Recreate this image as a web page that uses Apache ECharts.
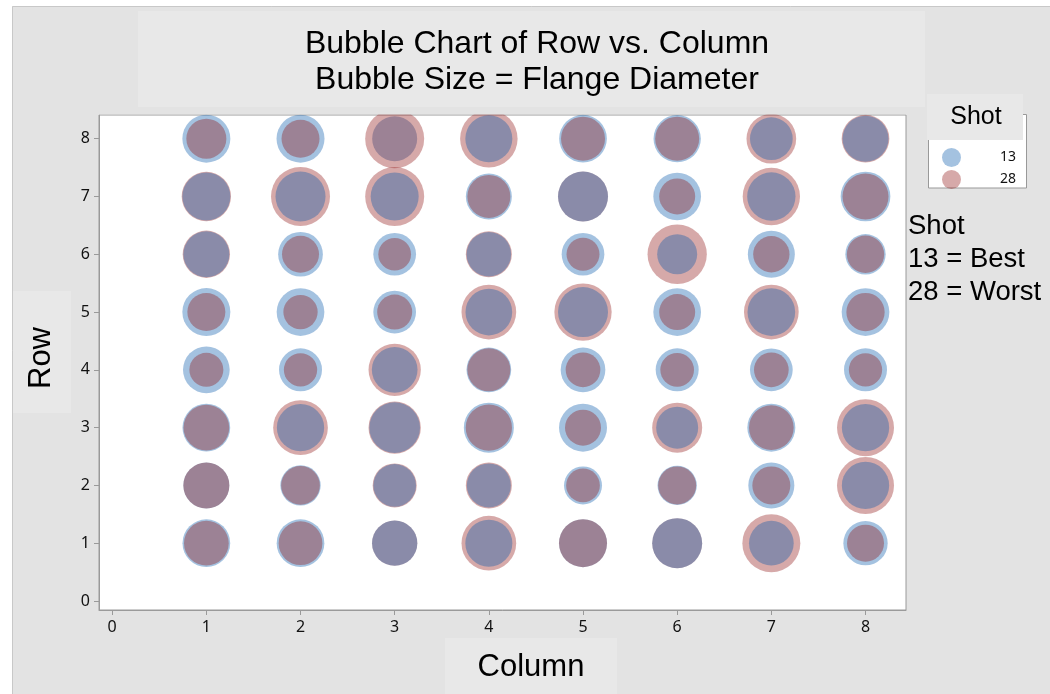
<!DOCTYPE html>
<html>
<head>
<meta charset="utf-8">
<script src="https://cdn.jsdelivr.net/npm/echarts@6/dist/echarts.min.js"></script>
<style>
html,body{margin:0;padding:0;background:#fff;}
#chart{width:1050px;height:694px;}
</style>
</head>
<body>
<div id="chart"></div>
<script>
// ---------------- data ----------------
const columns = [1, 2, 3, 4, 5, 6, 7, 8];
const rows = [1, 2, 3, 4, 5, 6, 7, 8];
const xTicks = [0, 1, 2, 3, 4, 5, 6, 7, 8];
const yTicks = [0, 1, 2, 3, 4, 5, 6, 7, 8];
const shots = ['13', '28'];
const shotNotes = ['Shot', '13 = Best', '28 = Worst'];

// Flange diameter (relative units), one array per Row (Row 1 .. Row 8), values for Column 1 .. 8
const shot13 = [
  [4.77, 4.77, 4.53, 4.70, 4.80, 5.00, 4.47, 4.43],
  [4.60, 4.03, 4.27, 4.40, 3.80, 3.93, 4.60, 4.73],
  [4.77, 4.73, 5.07, 5.00, 4.80, 4.20, 4.80, 4.73],
  [4.67, 4.30, 4.57, 4.47, 4.47, 4.30, 4.27, 4.30],
  [4.80, 4.77, 4.27, 4.67, 5.00, 4.77, 4.77, 4.77],
  [4.60, 4.47, 4.27, 4.45, 4.27, 4.00, 4.70, 4.03],
  [4.80, 5.00, 4.80, 4.60, 5.00, 4.77, 4.83, 4.97],
  [4.80, 4.80, 4.50, 4.70, 4.77, 4.73, 4.27, 4.60]
];
const shot28 = [
  [4.47, 4.37, 4.53, 5.47, 4.80, 5.00, 5.80, 3.70],
  [4.60, 3.87, 4.40, 4.60, 3.37, 3.80, 3.80, 5.70],
  [4.57, 5.47, 5.23, 4.63, 3.60, 5.00, 4.47, 5.70],
  [3.40, 3.33, 5.23, 4.30, 3.47, 3.37, 3.47, 3.33],
  [3.80, 3.43, 3.50, 5.47, 5.73, 3.60, 5.47, 3.83],
  [4.73, 3.70, 3.27, 4.60, 3.30, 5.93, 3.63, 3.73],
  [4.93, 5.90, 5.90, 4.30, 5.00, 3.60, 5.73, 4.60],
  [4.00, 3.80, 5.90, 5.75, 4.40, 4.40, 4.97, 4.77]
];
// Worksheet plotting order: cells [column, row] where the Shot 28 point was plotted after Shot 13
// even though it is not smaller (otherwise the smaller bubble is plotted last)
const shot28PlottedLast = [[3, 8], [1, 2], [5, 1]];

// ---------------- build ----------------
const BLUE = 'rgba(9,90,171,0.37)';
const PINK = 'rgba(141,17,17,0.36)';
const SIZE_SCALE = 10;

const under13 = [], under28 = [], over13 = [], over28 = [];
rows.forEach((r, i) => {
  columns.forEach((c, j) => {
    const a = shot13[i][j], b = shot28[i][j];
    const forced = shot28PlottedLast.some(p => p[0] === c && p[1] === r);
    const last28 = forced || b < a;
    if (last28) { under13.push([c, r, a]); over28.push([c, r, b]); }
    else { under28.push([c, r, b]); over13.push([c, r, a]); }
  });
});

function bubbleSeries(name, data, color, z) {
  return {
    type: 'scatter', name: name, data: data, z: z,
    symbol: 'circle',
    symbolSize: v => v[2] * SIZE_SCALE,
    itemStyle: { color: color, opacity: 1 },
    emphasis: { disabled: true },
    clip: false
  };
}

const chart = echarts.init(document.getElementById('chart'), null, { renderer: 'canvas' });
const axisColor = '#9a9a9a';
const tickFont = { fontFamily: 'Noto Sans', fontSize: 16, color: '#111' };
const textFont = 'Liberation Sans';

chart.setOption({
  animation: false,
  backgroundColor: '#e3e3e3',
  title: {
    text: 'Bubble Chart of Row vs. Column\nBubble Size = Flange Diameter',
    left: 532, top: 21, textAlign: 'center',
    textStyle: { fontFamily: textFont, fontSize: 32, fontWeight: 'normal', color: '#000', lineHeight: 36 }
  },
  grid: {
    left: 99, right: 144, top: 115, bottom: 84,
    show: true, backgroundColor: '#fff', borderColor: axisColor, borderWidth: 1
  },
  xAxis: {
    type: 'value', min: -0.14, max: 8.43,
    axisLine: { show: true, onZero: false, lineStyle: { color: axisColor } },
    axisTick: { show: true, length: 5, lineStyle: { color: axisColor }, customValues: xTicks },
    axisLabel: Object.assign({ margin: 9, customValues: xTicks }, tickFont),
    splitLine: { show: false }
  },
  yAxis: {
    type: 'value', min: -0.156, max: 8.41,
    axisLine: { show: true, onZero: false, lineStyle: { color: axisColor } },
    axisTick: { show: true, length: 5, lineStyle: { color: axisColor }, customValues: yTicks },
    axisLabel: Object.assign({ margin: 9, customValues: yTicks }, tickFont),
    splitLine: { show: false }
  },
  legend: {
    data: shots,
    orient: 'vertical',
    left: 937, top: 143,
    itemWidth: 19, itemHeight: 19, itemGap: 3,
    icon: 'circle',
    z: 10,
    selectedMode: false,
    formatter: '{a|{name}}',
    textStyle: { rich: { a: { width: 50, align: 'right', fontFamily: 'Noto Sans', fontSize: 14, color: '#111' } } }
  },
  graphic: [
    { type: 'rect', shape: { x: 0, y: 0, width: 1050, height: 6 }, style: { fill: '#fff' }, silent: true },
    { type: 'rect', shape: { x: 0, y: 0, width: 12, height: 694 }, style: { fill: '#fff' }, silent: true },
    { type: 'line', shape: { x1: 12.5, y1: 6.5, x2: 1050, y2: 6.5 }, style: { stroke: '#c8c8c8', lineWidth: 1 }, silent: true },
    { type: 'line', shape: { x1: 12.5, y1: 6.5, x2: 12.5, y2: 694 }, style: { stroke: '#c8c8c8', lineWidth: 1 }, silent: true },
    // light panels
    { type: 'rect', shape: { x: 138, y: 11, width: 787, height: 96 }, style: { fill: '#e8e8e8' }, silent: true },
    { type: 'rect', shape: { x: 13, y: 291, width: 58, height: 122 }, style: { fill: '#e8e8e8' }, silent: true },
    { type: 'rect', shape: { x: 445, y: 638, width: 172, height: 56 }, style: { fill: '#e8e8e8' }, silent: true },
    // mask bubble overflow above the data region
    { type: 'rect', shape: { x: 99, y: 107, width: 808, height: 7.5 }, style: { fill: '#e3e3e3' }, z: 50, silent: true },
    // legend box
    { type: 'rect', shape: { x: 928.5, y: 114.5, width: 98, height: 73.5 }, style: { fill: '#fff', stroke: '#999', lineWidth: 1 }, z: 1, silent: true },
    { type: 'rect', shape: { x: 927, y: 94, width: 96, height: 46 }, style: { fill: '#e8e8e8' }, z: 2, silent: true },
    { type: 'text', x: 976, y: 117, z: 3, silent: true,
      style: { text: 'Shot', fontFamily: textFont, fontSize: 25, fill: '#000', textAlign: 'center', textVerticalAlign: 'middle' } },
    // side notes
    { type: 'text', x: 908, y: 210, z: 3, silent: true,
      style: { text: shotNotes.join('\n'), fontFamily: textFont, fontSize: 27.5, lineHeight: 33, fill: '#000', textAlign: 'left', textVerticalAlign: 'top' } },
    // axis titles
    { type: 'text', x: 531, y: 667, z: 3, silent: true,
      style: { text: 'Column', fontFamily: textFont, fontSize: 31, fill: '#000', textAlign: 'center', textVerticalAlign: 'middle' } },
    { type: 'text', x: 41, y: 358, rotation: Math.PI / 2, z: 3, silent: true,
      style: { text: 'Row', fontFamily: textFont, fontSize: 31, fill: '#000', textAlign: 'center', textVerticalAlign: 'middle' } }
  ],
  series: [
    bubbleSeries('13', under13, BLUE, 2),
    bubbleSeries('28', under28, PINK, 2),
    bubbleSeries('13', over13, BLUE, 3),
    bubbleSeries('28', over28, PINK, 3)
  ]
});
</script>
</body>
</html>
